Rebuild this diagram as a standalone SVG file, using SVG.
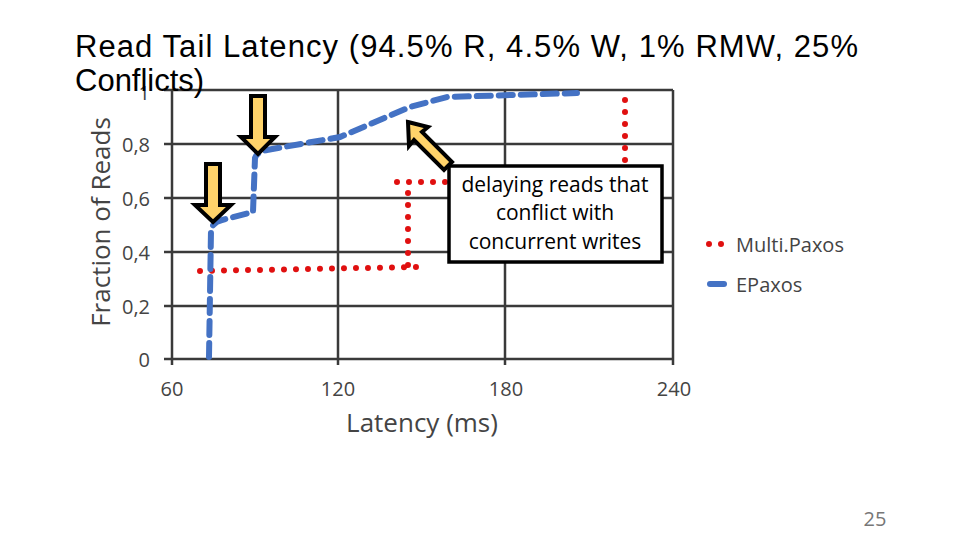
<svg xmlns="http://www.w3.org/2000/svg" width="960" height="540" viewBox="0 0 960 540">
<style>
.g{stroke:#3a3a3a;stroke-width:2.5;fill:none}
.t{font-family:"Open Sans","Liberation Sans",sans-serif;fill:#444;font-size:20px}
.blue{stroke:#4472c4;stroke-width:6;fill:none;stroke-dasharray:14 8;stroke-linecap:round}
.red{stroke:#e01010;stroke-width:6;fill:none;stroke-dasharray:0 12;stroke-linecap:round}
.arr{fill:#ffd36a;stroke:#000;stroke-width:4;stroke-linejoin:miter}
</style>
<rect width="960" height="540" fill="#fff"/>
<g id="grid">
<path class="g" d="M164 90H673M164 144H673M164 198H673M164 252H673M164 306H673M164 359H673M172 90V365M338 90V365M505 90V365M673 90V365"/>
</g>
<g id="labels" class="t">
<text x="150" y="100" text-anchor="end">1</text>
<text x="150" y="152" text-anchor="end">0,8</text>
<text x="150" y="206" text-anchor="end">0,6</text>
<text x="150" y="260" text-anchor="end">0,4</text>
<text x="150" y="314" text-anchor="end">0,2</text>
<text x="150" y="367" text-anchor="end">0</text>
<text x="172" y="396" text-anchor="middle">60</text>
<text x="338" y="396" text-anchor="middle">120</text>
<text x="506" y="396" text-anchor="middle">180</text>
<text x="674" y="396" text-anchor="middle">240</text>
<text x="422" y="432" text-anchor="middle" font-size="26">Latency (ms)</text>
<text transform="translate(110 222) rotate(-90)" text-anchor="middle" font-size="26">Fraction of Reads</text>
<text x="875" y="526" text-anchor="middle" font-size="20" fill="#777">25</text>
</g>
<text x="75" y="57" font-family="Liberation Sans,Arial,sans-serif" font-size="31" fill="#000" textLength="783">Read Tail Latency (94.5% R, 4.5% W, 1% RMW, 25%</text>
<text x="75" y="91" font-family="Liberation Sans,Arial,sans-serif" font-size="31" fill="#000">Conflicts)</text>
<g id="connectors">
<path class="red" d="M200 271L417 267M408 265V182M397 182H450M625 160V98"/>
<path class="blue" d="M209 357L211 230Q213 222 222 220L253 212L255 158Q257 152 267 150L340 137L410 107L447 97L577 93"/>
</g>
<g id="arrows">
<path class="arr" d="M251 96H265V137H275L258 154L241 137H251Z"/>
<path class="arr" d="M206 164H220V205H231L213 222L195 205H206Z"/>
<path class="arr" d="M408 122L428 127L422 132L452 162L444 170L414 140L409 146Z"/>
</g>
<g id="callout">
<rect x="449" y="166" width="213" height="96" fill="#fff" stroke="#000" stroke-width="3.5"/>
<text font-family="Open Sans,Liberation Sans,sans-serif" font-size="21" text-anchor="middle" fill="#000"><tspan x="555" y="192">delaying reads that</tspan><tspan x="555" y="220">conflict with</tspan><tspan x="555" y="249">concurrent writes</tspan></text>
</g>
<g id="legend">
<path class="red" d="M709 244H726"/>
<path class="blue" d="M710 284H724" stroke-dasharray="none"/>
<text x="736" y="252" class="t" font-size="23" fill="#222">Multi.Paxos</text>
<text x="736" y="292" class="t" font-size="23" fill="#222">EPaxos</text>
</g>
</svg>
